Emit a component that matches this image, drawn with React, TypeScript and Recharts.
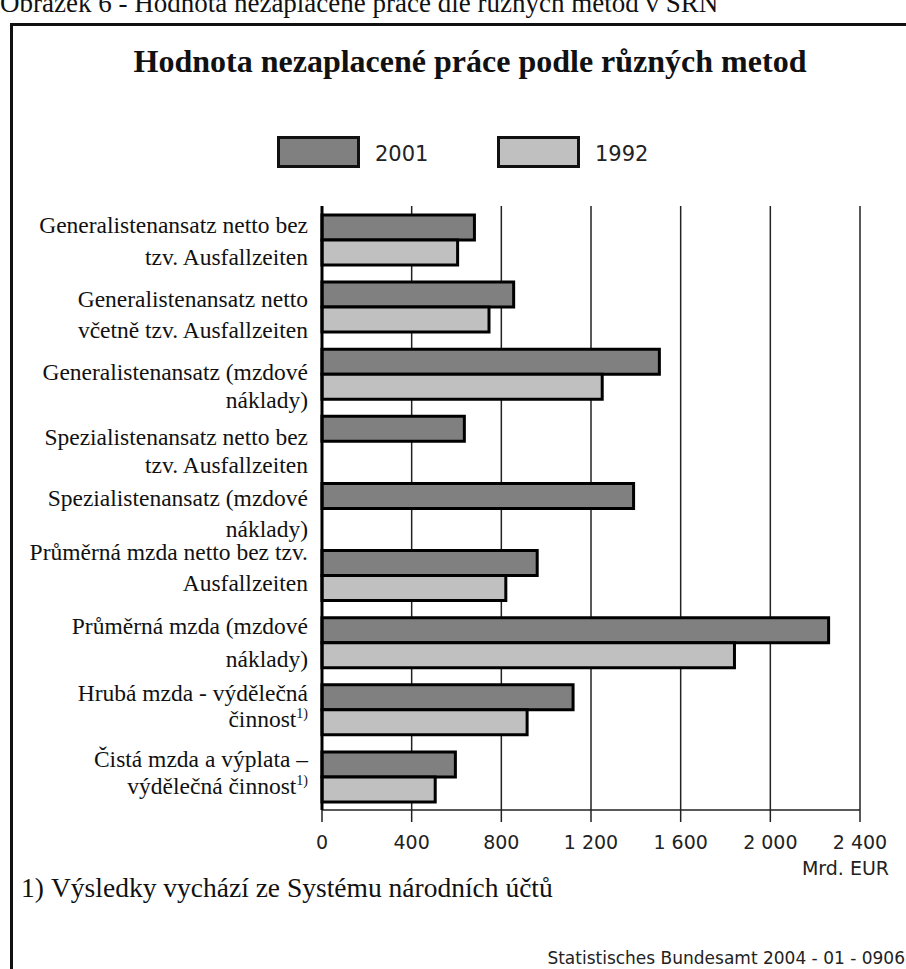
import React from "react";
import { BarChart, Bar, XAxis, YAxis, CartesianGrid } from "recharts";

// ---------- data ----------
const CATEGORY_LINES: string[][] = [
  ["Generalistenansatz netto bez", "tzv. Ausfallzeiten"],
  ["Generalistenansatz netto", "včetně tzv. Ausfallzeiten"],
  ["Generalistenansatz (mzdové", "náklady)"],
  ["Spezialistenansatz netto bez", "tzv. Ausfallzeiten"],
  ["Spezialistenansatz (mzdové", "náklady)"],
  ["Průměrná mzda netto bez tzv.", "Ausfallzeiten"],
  ["Průměrná mzda (mzdové", "náklady)"],
  ["Hrubá mzda - výdělečná", "činnost^1)"],
  ["Čistá mzda a výplata –", "výdělečná činnost^1)"],
];
const VALUES_2001: (number | null)[] = [680, 855, 1505, 635, 1390, 960, 2260, 1120, 595];
const VALUES_1992: (number | null)[] = [605, 745, 1250, null, null, 820, 1840, 915, 505];
const SERIES_NAMES = ["2001", "1992"];
const X_TICKS = [0, 400, 800, 1200, 1600, 2000, 2400];
const X_TICK_LABELS = ["0", "400", "800", "1 200", "1 600", "2 000", "2 400"];
const TITLE = "Hodnota nezaplacené práce podle různých metod";
const CAPTION = "Obrázek 6 - Hodnota nezaplacené práce dle různých metod v SRN";
const UNIT = "Mrd. EUR";
const FOOTNOTE_MARK = "1)";
const FOOTNOTE = "Výsledky vychází ze Systému národních účtů";
const SOURCE = "Statistisches Bundesamt 2004 - 01 - 0906";

// ---------- styles ----------
const SERIF = "'Liberation Serif', 'Times New Roman', serif";
const SANS = "'DejaVu Sans', sans-serif";
const COLORS = ["#808080", "#c0c0c0"];
// per-label vertical offsets of the two lines relative to band centre (style only)
const LABEL_OFFSETS: number[][] = [
  [-15, 17],
  [-8, 23],
  [-2, 26],
  [-4, 24],
  [-10, 21],
  [-23, 8],
  [-16, 17],
  [-16, 10],
  [-17, 10],
];
const LEGEND_X = [277, 497];

const data = CATEGORY_LINES.map((lines, i) => ({
  name: lines.join(" ").replace("^", ""),
  v2001: VALUES_2001[i],
  v1992: VALUES_1992[i],
}));

function renderLine(line: string) {
  const idx = line.indexOf("^");
  if (idx < 0) return line;
  return (
    <>
      {line.slice(0, idx)}
      <tspan fontSize={14} dy={-9}>
        {line.slice(idx + 1)}
      </tspan>
    </>
  );
}

const YTick = (props: any) => {
  const { x, y, index } = props;
  const lines = CATEGORY_LINES[index] || [];
  const offs = LABEL_OFFSETS[index] || [-15, 17];
  return (
    <g>
      {lines.map((ln, k) => (
        <text
          key={k}
          x={x}
          y={y + offs[k] + 8}
          textAnchor="end"
          fontFamily={SERIF}
          fontSize={23.5}
          fill="#111"
        >
          {renderLine(ln)}
        </text>
      ))}
    </g>
  );
};

const XTick = (props: any) => {
  const { x, y, payload } = props;
  const i = X_TICKS.indexOf(payload.value);
  return (
    <text x={x} y={y + 27} textAnchor="middle" fontFamily={SANS} fontSize={19} fill="#222">
      {X_TICK_LABELS[i] ?? String(payload.value)}
    </text>
  );
};

export default function App() {
  return (
    <div
      style={{
        position: "absolute",
        left: 0,
        top: 0,
        width: 906,
        height: 969,
        overflow: "hidden",
        background: "#fff",
      }}
    >
      <style>{`html,body{margin:0;padding:0;overflow:hidden;}`}</style>
      <svg
        width={906}
        height={969}
        style={{ position: "absolute", left: 0, top: 0 }}
      >
        <text x={0} y={12} fontFamily={SERIF} fontSize={27} fill="#111">
          {CAPTION}
        </text>
        <line x1={11.5} y1={23} x2={11.5} y2={969} stroke="#111" strokeWidth={3} />
        <line x1={10} y1={24.5} x2={906} y2={24.5} stroke="#111" strokeWidth={3} />
        <text
          x={470}
          y={72}
          textAnchor="middle"
          fontFamily={SERIF}
          fontWeight="bold"
          fontSize={32}
          fill="#111"
        >
          {TITLE}
        </text>
        {SERIES_NAMES.map((nm, i) => (
          <g key={nm}>
            <rect
              x={LEGEND_X[i] + 1.5}
              y={137.5}
              width={80}
              height={29}
              fill={COLORS[i]}
              stroke="#111"
              strokeWidth={3}
            />
            <text
              x={LEGEND_X[i] + 98}
              y={161}
              fontFamily={SANS}
              fontSize={21}
              fill="#222"
            >
              {nm}
            </text>
          </g>
        ))}
        <text x={889} y={875} textAnchor="end" fontFamily={SANS} fontSize={19} fill="#222">
          {UNIT}
        </text>
        <text x={21} y={897} fontFamily={SERIF} fontSize={27.5} fill="#111">
          {FOOTNOTE_MARK}
        </text>
        <text x={51} y={897} fontFamily={SERIF} fontSize={27.5} fill="#111">
          {FOOTNOTE}
        </text>
        <text x={905} y={964} textAnchor="end" fontFamily={SANS} fontSize={17} fill="#222">
          {SOURCE}
        </text>
      </svg>
      <div style={{ position: "absolute", left: 0, top: 0 }}>
        <BarChart
          width={906}
          height={969}
          data={data}
          layout="vertical"
          margin={{ top: 206, right: 46, bottom: 119, left: 22 }}
          barCategoryGap={9}
          barGap={0}
        >
          <CartesianGrid horizontal={false} stroke="#222" strokeWidth={1.5} />
          <XAxis
            type="number"
            domain={[0, 2400]}
            ticks={X_TICKS}
            interval={0}
            height={40}
            tickSize={12}
            tickMargin={0}
            tick={<XTick />}
            axisLine={{ stroke: "#222", strokeWidth: 1.5 }}
            tickLine={{ stroke: "#222", strokeWidth: 1.5 }}
          />
          <XAxis
            xAxisId="top"
            orientation="top"
            type="number"
            domain={[0, 2400]}
            height={0}
            tick={false}
            tickLine={false}
            axisLine={{ stroke: "#222", strokeWidth: 2 }}
          />
          <YAxis
            type="category"
            dataKey="name"
            width={300}
            tickSize={0}
            tickMargin={14}
            tickLine={false}
            interval={0}
            tick={<YTick />}
            axisLine={{ stroke: "#000", strokeWidth: 3 }}
          />
          <Bar
            dataKey="v2001"
            name={SERIES_NAMES[0]}
            fill={COLORS[0]}
            stroke="#000"
            strokeWidth={3}
            isAnimationActive={false}
          />
          <Bar
            dataKey="v1992"
            name={SERIES_NAMES[1]}
            fill={COLORS[1]}
            stroke="#000"
            strokeWidth={3}
            isAnimationActive={false}
          />
        </BarChart>
      </div>
    </div>
  );
}
